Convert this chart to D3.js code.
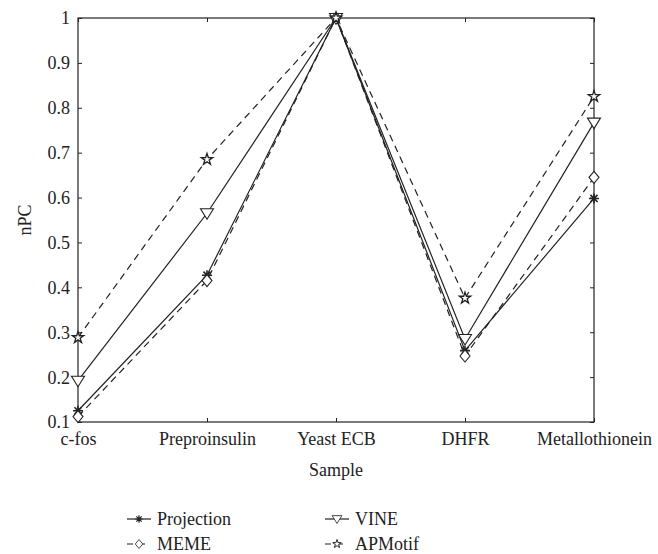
<!DOCTYPE html>
<html><head><meta charset="utf-8">
<script src="https://cdn.jsdelivr.net/npm/d3@7/dist/d3.min.js"></script>
<style>body{margin:0;background:#fff}
svg text{font-family:"Liberation Serif",Tinos,"Times New Roman",Times,"Noto Serif","DejaVu Serif",FreeSerif,serif !important;}
</style>
</head><body><svg id="c" width="658" height="554"></svg>
<script>
const categories = ["c-fos","Preproinsulin","Yeast ECB","DHFR","Metallothionein"];
const yTicks = [0.1,0.2,0.3,0.4,0.5,0.6,0.7,0.8,0.9,1];
const projection = [0.125,0.427,1,0.259,0.598];
const meme = [0.112,0.415,1,0.247,0.645];
const vine = [0.192,0.565,1,0.285,0.767];
const apmotif = [0.288,0.685,1,0.376,0.825];

const svg = d3.select("#c");
const L=78,R=594,T=18,B=422;
const x = d3.scalePoint().domain(categories).range([L,R]);
const y = d3.scaleLinear().domain([0.1,1]).range([B,T]);
const col="#222";

svg.append("rect").attr("x",L).attr("y",T).attr("width",R-L).attr("height",B-T)
  .attr("fill","none").attr("stroke",col).attr("stroke-width",1.2);

const gy = svg.append("g").attr("transform",`translate(${L},0)`)
  .call(d3.axisLeft(y).tickValues(yTicks).tickSizeInner(-4).tickSizeOuter(0).tickPadding(8).tickFormat(d=>d===1?"1":d3.format(".1f")(d)));
const gyr = svg.append("g").attr("transform",`translate(${R},0)`)
  .call(d3.axisRight(y).tickValues(yTicks).tickSizeInner(-4).tickSizeOuter(0).tickFormat(""));
const gx = svg.append("g").attr("transform",`translate(0,${B})`)
  .call(d3.axisBottom(x).tickSizeInner(-4).tickSizeOuter(0).tickPadding(10));
const gxt = svg.append("g").attr("transform",`translate(0,${T})`)
  .call(d3.axisTop(x).tickSizeInner(-4).tickSizeOuter(0).tickFormat(""));
[gy,gyr,gx,gxt].forEach(g=>{g.attr("font-family",null);g.select(".domain").remove();g.selectAll("line").attr("stroke",col);
  g.selectAll("text").style("font-size","18px").attr("fill",col);});
gy.selectAll("text").attr("dy","0.33em");

svg.append("text").attr("transform",`translate(31,${(T+B)/2}) rotate(-90)`).attr("text-anchor","middle")
  .style("font-size","18px").attr("fill",col).text("nPC");
svg.append("text").attr("x",(L+R)/2).attr("y",476).attr("text-anchor","middle")
  .style("font-size","18px").attr("fill",col).text("Sample");

function marker(g,type){
  const p = g.append("path").attr("fill","#fff").attr("stroke",col).attr("stroke-width",1.1);
  if(type==="ast"){
    let d="";
    for(let i=0;i<4;i++){const a=i*Math.PI/4;d+=`M${-5*Math.cos(a)},${-5*Math.sin(a)}L${5*Math.cos(a)},${5*Math.sin(a)}`;}
    p.attr("d",d).attr("stroke-width",1.6);
  } else if(type==="tri"){
    p.attr("d","M-6.5,-4.5L6.5,-4.5L0,6Z");
  } else if(type==="dia"){
    p.attr("d","M0,-6L5,0L0,6L-5,0Z");
  } else if(type==="star"){
    p.attr("d",d3.symbol().type(d3.symbolStar).size(40)()).attr("stroke-width",1.3);
  }
}
const series = [
  {name:"Projection",vals:projection,dash:null,m:"ast"},
  {name:"VINE",vals:vine,dash:null,m:"tri"},
  {name:"MEME",vals:meme,dash:"7,5",m:"dia"},
  {name:"APMotif",vals:apmotif,dash:"7,5",m:"star"}
];
const line = d3.line().x((d,i)=>x(categories[i])).y(d=>y(d));
series.forEach(s=>{
  svg.append("path").datum(s.vals).attr("d",line).attr("fill","none").attr("stroke",col)
    .attr("stroke-width",1.2).attr("stroke-dasharray",s.dash);
});
series.forEach(s=>{
  s.vals.forEach((v,i)=>{
    const g=svg.append("g").attr("transform",`translate(${x(categories[i])},${y(v)})`);
    marker(g,s.m);
  });
});

const lpos = {"Projection":[127,519],"VINE":[325,519],"MEME":[127,544],"APMotif":[325,544]};
series.forEach(s=>{
  const [lx,ly]=lpos[s.name];
  const g=svg.append("g").attr("transform",`translate(${lx},${ly})`);
  g.append("line").attr("x1",0).attr("x2",24).attr("y1",0).attr("y2",0).attr("stroke",col)
    .attr("stroke-width",1.2).attr("stroke-dasharray",s.dash?"6,6":null);
  const mg=g.append("g").attr("transform","translate(12,0) scale(0.75)");
  marker(mg,s.m);
  g.append("text").attr("x",30).attr("y",0).attr("dy","0.33em")
    .style("font-size","18px").attr("fill",col).text(s.name);
});
</script></body></html>
